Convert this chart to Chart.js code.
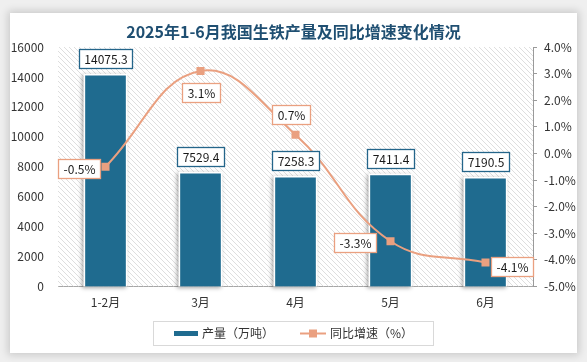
<!DOCTYPE html>
<html><head><meta charset="utf-8">
<script src="https://cdn.jsdelivr.net/npm/chart.js@4.4.1/dist/chart.umd.min.js"></script>
<style>
html,body{margin:0;padding:0;background:#efefef;width:587px;height:362px;overflow:hidden}
#card{position:absolute;left:10px;top:13px;width:567px;height:340px;background:#fff;box-shadow:0 0 8px 2px rgba(0,0,0,0.16)}
canvas{display:block}
</style></head><body>
<div id="card"><canvas id="c" width="567" height="340" style="width:567px;height:340px"></canvas></div>
<script>
// ---- data ----
const categories = ['1-2月', '3月', '4月', '5月', '6月'];
const outputValues = [14075.3, 7529.4, 7258.3, 7411.4, 7190.5];   // 产量（万吨）
const growthValues = [-0.5, 3.1, 0.7, -3.3, -4.1];               // 同比增速（%）
const leftTicks = [0, 2000, 4000, 6000, 8000, 10000, 12000, 14000, 16000];
const rightTicks = [-5, -4, -3, -2, -1, 0, 1, 2, 3, 4];
const titleText = '2025年1-6月我国生铁产量及同比增速变化情况';

// ---- style ----
const BAR_COLOR = '#1f6b8f';
const BAR_LABEL_BORDER = '#24658a';
const LINE_COLOR = '#eaa080';
const FONT = '"Noto Sans CJK SC", "Noto Sans", sans-serif';
const growthLabelOffset = [[-27, 2], [0, 22], [-5, -20], [-36, 1], [26, 4]];

// hatch pattern
function makeHatch() {
  const s = 5, p = document.createElement('canvas');
  p.width = s; p.height = s;
  const g = p.getContext('2d');
  g.strokeStyle = '#d6d6d6'; g.lineWidth = 0.8;
  g.beginPath();
  g.moveTo(0, 0); g.lineTo(s, s);
  g.moveTo(-1, s - 1); g.lineTo(1, s + 1);
  g.moveTo(s - 1, -1); g.lineTo(s + 1, 1);
  g.stroke();
  return p;
}
const hatch = makeHatch();

function drawBox(ctx, text, cx, cy, border) {
  ctx.font = '12px ' + FONT;
  const w = Math.round(ctx.measureText(text).width + 10);
  const h = 19;
  const x = Math.round(cx - w / 2) + 0.5, y = Math.round(cy - h / 2) + 0.5;
  ctx.fillStyle = '#fff'; ctx.fillRect(x, y, w, h);
  ctx.strokeStyle = border; ctx.lineWidth = 1.3; ctx.strokeRect(x, y, w, h);
  ctx.fillStyle = '#1a1a1a'; ctx.textAlign = 'center'; ctx.textBaseline = 'middle';
  ctx.fillText(text, x + w / 2, y + h / 2 + 0.5);
}

const decor = {
  id: 'decor',
  beforeDatasetsDraw(chart) {
    const { ctx, chartArea: a } = chart;
    ctx.save();
    ctx.fillStyle = ctx.createPattern(hatch, 'repeat');
    ctx.fillRect(a.left, a.top, a.right - a.left, a.bottom - a.top);
    // bar white frame + shadow
    const meta = chart.getDatasetMeta(0);
    ctx.shadowColor = 'rgba(0,0,0,0.35)';
    ctx.shadowBlur = 4; ctx.shadowOffsetX = -2; ctx.shadowOffsetY = 1;
    ctx.fillStyle = '#fff';
    meta.data.forEach(b => {
      const { x, y, base, width } = b.getProps(['x', 'y', 'base', 'width'], true);
      ctx.fillRect(x - width / 2 - 2, y - 2, width + 4, base - y + 2);
    });
    ctx.restore();
  },
  afterDatasetsDraw(chart) {
    const ctx = chart.ctx;
    ctx.save();
    const bars = chart.getDatasetMeta(0);
    bars.data.forEach((b, i) => {
      const v = chart.data.datasets[0].data[i];
      drawBox(ctx, v.toFixed(1), b.x, b.y - 8 - 9.5, BAR_LABEL_BORDER);
    });
    const pts = chart.getDatasetMeta(1);
    pts.data.forEach((p, i) => {
      const v = chart.data.datasets[1].data[i];
      const o = growthLabelOffset[i];
      drawBox(ctx, v.toFixed(1) + '%', p.x + o[0], p.y + o[1], LINE_COLOR);
    });
    ctx.restore();
  },
  afterDraw(chart) {
    const ctx = chart.ctx;
    ctx.save();
    ctx.strokeStyle = '#d9d9d9'; ctx.lineWidth = 1;
    ctx.strokeRect(143.5, 308.5, 280, 24);
    const cy = 320.5;
    ctx.fillStyle = BAR_COLOR;
    ctx.fillRect(164, cy - 2.5, 24, 5);
    ctx.font = '12px ' + FONT;
    ctx.fillStyle = '#333'; ctx.textAlign = 'left'; ctx.textBaseline = 'middle';
    ctx.fillText(chart.data.datasets[0].label, 192, cy);
    ctx.strokeStyle = LINE_COLOR; ctx.lineWidth = 2;
    ctx.beginPath(); ctx.moveTo(290, cy); ctx.lineTo(316, cy); ctx.stroke();
    ctx.fillStyle = LINE_COLOR;
    ctx.fillRect(299, cy - 4, 8, 8);
    ctx.fillStyle = '#333';
    ctx.fillText(chart.data.datasets[1].label, 320, cy);
    ctx.restore();
  }
};

new Chart(document.getElementById('c'), {
  data: {
    labels: categories,
    datasets: [
      {
        type: 'bar', label: '产量（万吨）', data: outputValues, yAxisID: 'y',
        backgroundColor: BAR_COLOR, borderWidth: 0, barThickness: 40, order: 2
      },
      {
        type: 'line', label: '同比增速（%）', data: growthValues, yAxisID: 'y1',
        borderColor: LINE_COLOR, borderWidth: 2, tension: 0.42,
        pointStyle: 'rect', pointRadius: 5.7, pointBackgroundColor: LINE_COLOR,
        pointBorderColor: LINE_COLOR, pointBorderWidth: 0, order: 1
      }
    ]
  },
  options: {
    responsive: false, animation: false,
    layout: { padding: { left: 0, right: 0, top: 0, bottom: 0 } },
    plugins: {
      legend: { display: false }, tooltip: { enabled: false },
      title: {
        display: true, text: titleText, color: '#1f4f72',
        font: { family: FONT, size: 16, weight: 'bold', lineHeight: 1.25 },
        padding: { top: 9, bottom: 5 }
      }
    },
    scales: {
      x: {
        grid: { display: false, drawTicks: false },
        border: { display: true, color: '#a6a6a6', width: 1 },
        ticks: { color: '#333', font: { family: FONT, size: 12 }, padding: 9 },
        afterFit(s) { s.height = 66.5; }
      },
      y: {
        position: 'left', min: leftTicks[0], max: leftTicks[leftTicks.length - 1],
        grid: { display: false, drawTicks: false }, border: { display: false },
        ticks: {
          stepSize: leftTicks[1] - leftTicks[0], color: '#333', font: { family: FONT, size: 12 }, padding: 14,
          callback: v => String(v)
        },
        afterFit(s) { s.width = 48; }
      },
      y1: {
        position: 'right', min: rightTicks[0], max: rightTicks[rightTicks.length - 1],
        grid: { display: true, drawOnChartArea: false, drawTicks: true, tickLength: 4, color: '#9a9a9a' },
        border: { display: true, color: '#9a9a9a' },
        ticks: {
          stepSize: 1, color: '#333', font: { family: FONT, size: 12 }, padding: 7,
          callback: v => v.toFixed(1) + '%'
        },
        afterFit(s) { s.width = 44; }
      }
    }
  },
  plugins: [decor]
});
</script>
</body></html>
